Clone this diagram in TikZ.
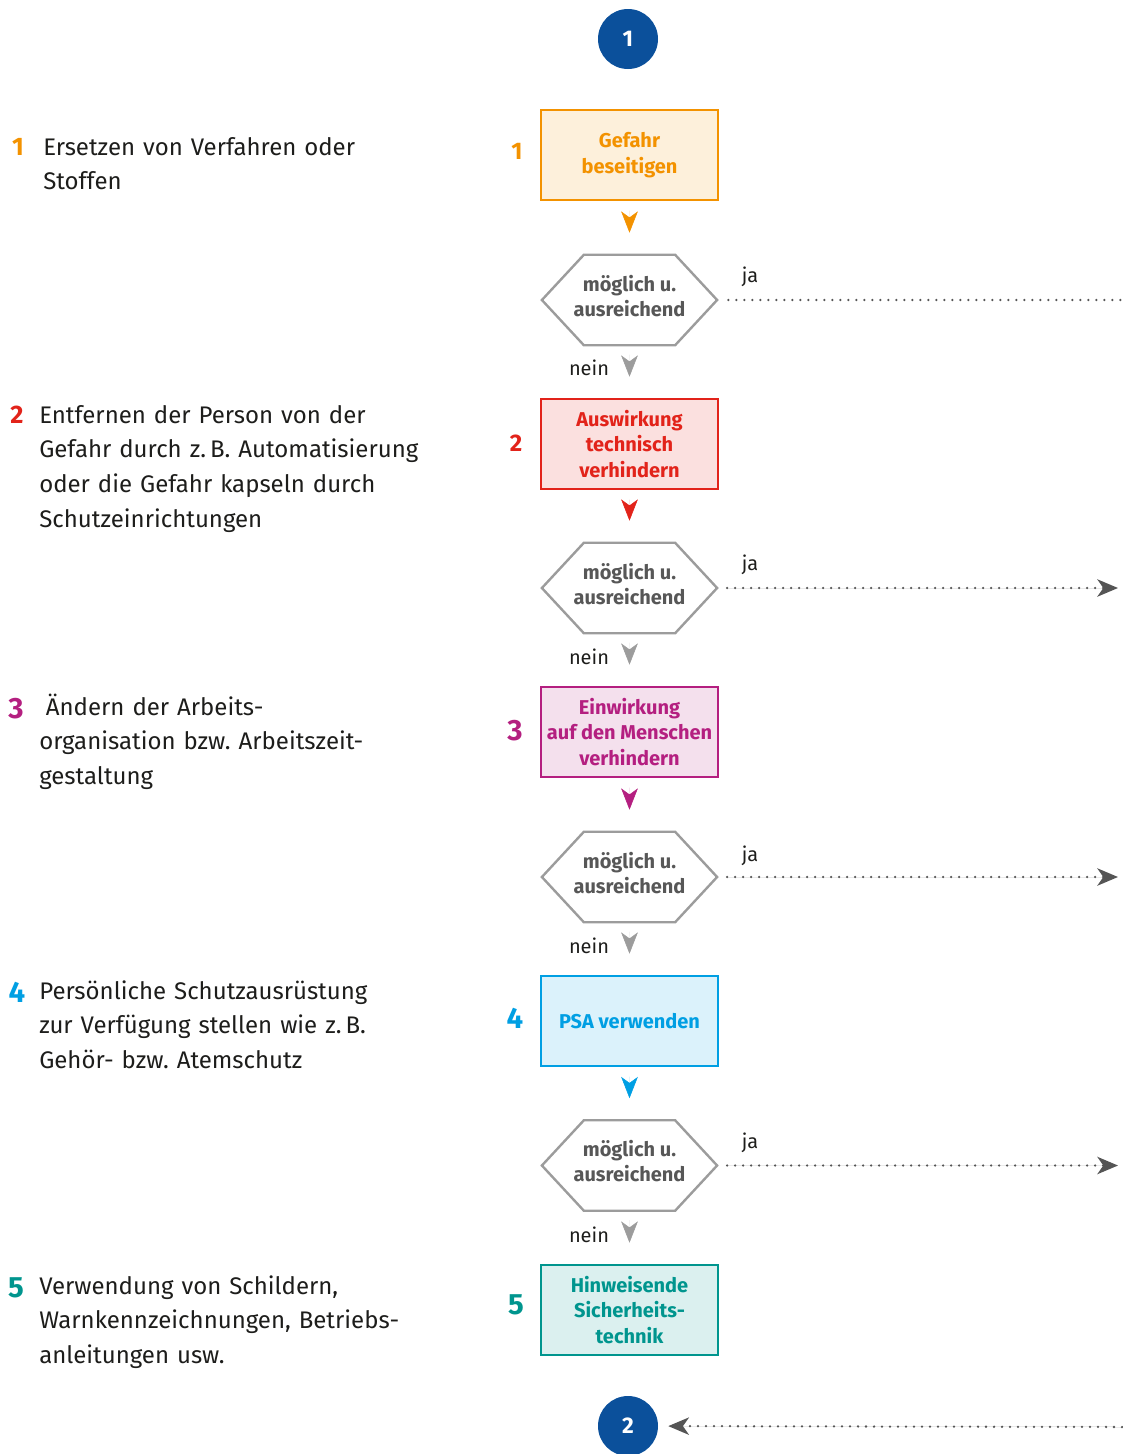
\documentclass[tikz,border=0pt]{standalone}
\usepackage{fontspec}
\setmainfont{Fira Sans}
\usetikzlibrary{arrows.meta}
\frenchspacing
\definecolor{corange}{HTML}{F39200}
\definecolor{cred}{HTML}{E2231A}
\definecolor{cmag}{HTML}{B41F80}
\definecolor{ccyan}{HTML}{009FE3}
\definecolor{cteal}{HTML}{00958E}
\definecolor{cblue}{HTML}{0B509B}
\definecolor{hexgray}{HTML}{9C9C9C}
\definecolor{hextext}{HTML}{575757}
\definecolor{dotgray}{HTML}{555555}
\definecolor{textdark}{HTML}{1D1D1B}
\tikzset{
  fbox/.style={rectangle, draw=#1, fill=#1!14, text=#1, line width=1.9pt,
    minimum width=132.5pt, minimum height=67.5pt, inner sep=0pt, align=center,
    font=\bfseries\fontsize{15}{19}\selectfont},
  hexnode/.style={rectangle, minimum width=131pt, minimum height=67.5pt, inner sep=0pt},
  hextxt/.style={inner sep=0pt, align=center, text=hextext, font=\bfseries\fontsize{15}{18.75}\selectfont},
  hexline/.style={draw=hexgray, line width=1.8pt, line join=miter},
  tipconn/.style={draw=#1, fill=#1, line width=0.4pt, dash pattern=on 0pt off 300pt, line cap=butt,
    -{Stealth[length=16pt,width=12.5pt,inset=4.5pt]}},
  jaline/.style={draw=dotgray, line width=1.9pt, line cap=round, dash pattern=on 0pt off 6pt},
  jatip/.style={-{Stealth[length=15.5pt,width=13pt,inset=4.5pt]}},
  circ/.style={circle, fill=cblue, minimum size=45pt, inner sep=0pt, text=white,
    font=\bfseries\fontsize{17}{17}\selectfont},
  lefttext/.style={anchor=base west, inner sep=0pt, align=left, text width=420pt, text=textdark,
    font=\fontsize{18}{26}\selectfont},
  numS/.style={anchor=base, inner sep=0pt, font=\bfseries\fontsize{19}{19}\selectfont},
  numB/.style={anchor=base, inner sep=0pt, font=\bfseries\fontsize{22}{22}\selectfont},
  numR/.style={anchor=center, inner sep=0pt},
  small/.style={inner sep=0pt, text=textdark, font=\fontsize{15}{15}\selectfont},
}
\newcommand\hexoutline[1]{\draw[hexline] (#1.west) -- ([xshift=31.5pt]#1.north west)
  -- ([xshift=-31.5pt]#1.north east) -- (#1.east) -- ([xshift=-31.5pt]#1.south east)
  -- ([xshift=31.5pt]#1.south west) -- cycle;}
\begin{document}
\begin{tikzpicture}[x=0.75pt,y=-0.75pt]
\useasboundingbox (0,0) rectangle (1122,1454);

% circles
\node[circ] (c1) at (628,39) {1};
\node[circ] (c2) at (628,1426) {2};

% boxes
\node[fbox=corange] (b1) at (629.5,155) {Gefahr\\beseitigen};
\node[fbox=cred] (b2) at (629.5,444) {Auswirkung\\technisch\\verhindern};
\node[fbox=cmag] (b3) at (629.5,732) {Einwirkung\\auf den Menschen\\verhindern};
\node[fbox=ccyan] (b4) at (629.5,1021) {PSA verwenden};
\node[fbox=cteal] (b5) at (629.5,1310) {Hinweisende\\Sicherheits-\\technik};

% hexagons
\node[hexnode] (h1) at (629.5,300) {};
\node[hexnode] (h2) at (629.5,588) {};
\node[hexnode] (h3) at (629.5,877) {};
\node[hexnode] (h4) at (629.5,1165.5) {};
\hexoutline{h1}
\hexoutline{h2}
\hexoutline{h3}
\hexoutline{h4}
\node[hextxt] (h1t) at ([yshift=3pt]h1.center) {möglich u.\\ausreichend};
\node[hextxt] (h2t) at ([yshift=3pt]h2.center) {möglich u.\\ausreichend};
\node[hextxt] (h3t) at ([yshift=3pt]h3.center) {möglich u.\\ausreichend};
\node[hextxt] (h4t) at ([yshift=3pt]h4.center) {möglich u.\\ausreichend};

% numbers beside boxes
\node[numR, text=corange, font=\bfseries\fontsize{18}{18}\selectfont] (n1) at (517,151) {1};
\node[numR, text=cred, font=\bfseries\fontsize{18}{18}\selectfont] (n2) at (516,443) {2};
\node[numR, text=cmag, font=\bfseries\fontsize{22}{22}\selectfont] (n3) at (515,731) {3};
\node[numR, text=ccyan, font=\bfseries\fontsize{22}{22}\selectfont] (n4) at (515,1018) {4};
\node[numR, text=cteal, font=\bfseries\fontsize{22}{22}\selectfont] (n5) at (516,1305) {5};

% arrow tips box -> hexagon
\draw[tipconn=corange, shorten <=7pt, shorten >=16.5pt] (b1.south) -- (h1.north);
\draw[tipconn=cred, shorten <=7pt, shorten >=16.5pt] (b2.south) -- (h2.north);
\draw[tipconn=cmag, shorten <=7pt, shorten >=16.5pt] (b3.south) -- (h3.north);
\draw[tipconn=ccyan, shorten <=7pt, shorten >=16.5pt] (b4.south) -- (h4.north);

% arrow tips hexagon -> next box (nein)
\draw[tipconn=hexgray, shorten <=7pt, shorten >=15.75pt] (h1.south) -- (b2.north);
\draw[tipconn=hexgray, shorten <=7pt, shorten >=15.75pt] (h2.south) -- (b3.north);
\draw[tipconn=hexgray, shorten <=7pt, shorten >=15.75pt] (h3.south) -- (b4.north);
\draw[tipconn=hexgray, shorten <=7pt, shorten >=15.75pt] (h4.south) -- (b5.north);

\node[small] (nein1) at (589,368) {nein};
\node[small] (nein2) at (589,657) {nein};
\node[small] (nein3) at (589,946) {nein};
\node[small] (nein4) at (589,1235) {nein};

% ja lines
\coordinate (r1) at (1122,300);
\coordinate (r2) at (1118,588);
\coordinate (r3) at (1118,877);
\coordinate (r4) at (1118,1165.5);
\coordinate (r5) at (1122,1427);
\draw[jaline, shorten <=8.5pt] (h1.east) -- (r1);
\draw[jaline, jatip, fill=dotgray, shorten <=7.5pt] (h2.east) -- (r2);
\draw[jaline, jatip, fill=dotgray, shorten <=7.5pt] (h3.east) -- (r3);
\draw[jaline, jatip, fill=dotgray, shorten <=7.5pt] (h4.east) -- (r4);
\draw[jaline, jatip, fill=dotgray, shorten >=7.5pt] (r5) -- (c2);

\node[small] (ja1) at (750,277) {ja};
\node[small] (ja2) at (750,565) {ja};
\node[small] (ja3) at (750,856) {ja};
\node[small] (ja4) at (750,1143) {ja};

% left column
\node[numS, text=corange] (l1) at (18,155) {1};
\node[lefttext] (t1) at (43,155) {Ersetzen von Verfahren oder\\Stoffen};
\node[numS, text=cred] (l2) at (17,423) {2};
\node[lefttext] (t2) at (39,423) {Entfernen der Person von der\\Gefahr durch z.\,B. Automatisierung\\oder die Gefahr kapseln durch\\Schutzeinrichtungen};
\node[numB, text=cmag] (l3) at (16,718) {3};
\node[lefttext] (t3) at (39,715) {\hspace*{5pt}Ändern der Arbeits-\\organisation bzw. Arbeitszeit-\\gestaltung};
\node[numB, text=ccyan] (l4) at (17,1002) {4};
\node[lefttext] (t4) at (39,999) {Persönliche Schutzausrüstung\\zur Verfügung stellen wie z.\,B.\\Gehör- bzw. Atemschutz};
\node[numB, text=cteal] (l5) at (16,1297) {5};
\node[lefttext] (t5) at (39,1294) {Verwendung von Schildern,\\Warnkennzeichnungen, Betriebs-\\anleitungen usw.};
\end{tikzpicture}
\end{document}
